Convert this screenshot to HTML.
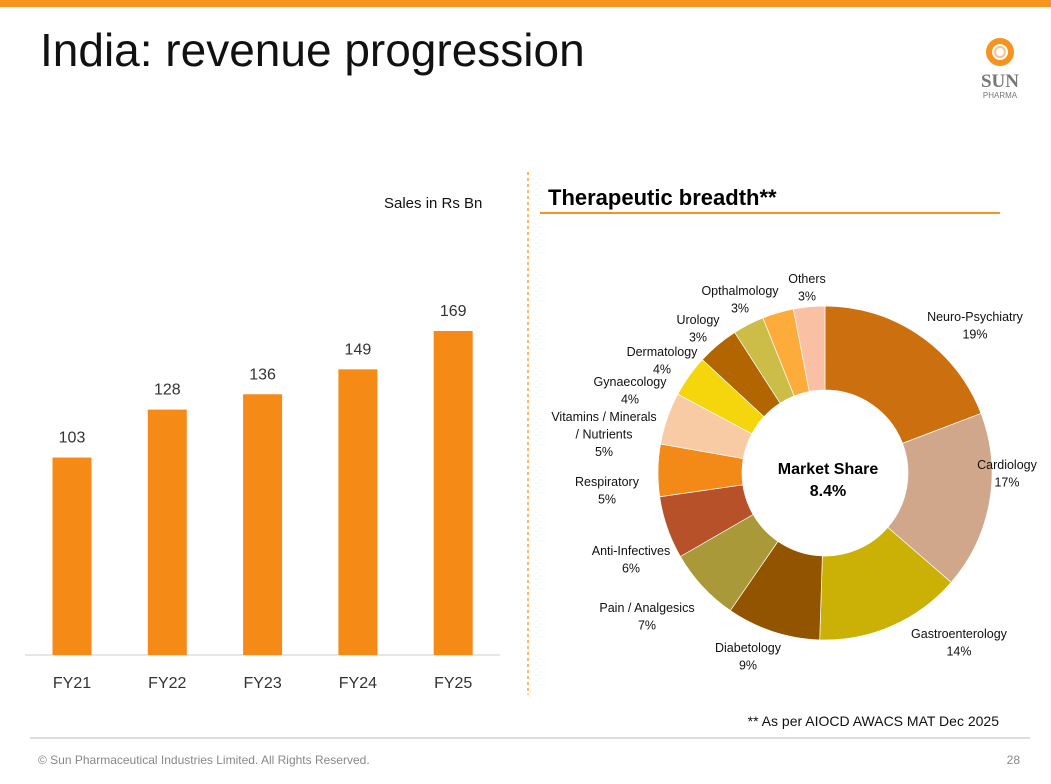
<!DOCTYPE html>
<html><head><meta charset="utf-8"><style>
body{margin:0;width:1051px;height:784px;background:#fff;font-family:"Liberation Sans",sans-serif;position:relative;overflow:hidden}
.abs{position:absolute}
</style></head><body>
<div class="abs" style="left:0;top:0;width:1051px;height:7px;background:#f7931e"></div>
<div class="abs" style="left:40px;top:23px;font-size:46px;color:#111">India: revenue progression</div>
<div class="abs" style="left:975px;top:36px;width:50px;text-align:center">
<svg width="32" height="32" viewBox="0 0 32 32"><circle cx="16" cy="16" r="11" fill="none" stroke="#f7931e" stroke-width="6"/><circle cx="16" cy="16" r="5" fill="none" stroke="#f9c38a" stroke-width="2"/></svg>
<div style="font-family:'Liberation Serif',serif;font-size:19px;font-weight:bold;color:#777;line-height:18px">SUN</div>
<div style="font-size:8px;color:#777">PHARMA</div></div>
<div class="abs" style="left:384px;top:195px;font-size:15px;color:#111">Sales in Rs Bn</div>
<svg class="abs" style="left:0;top:0" width="1051" height="784" id="chart">
<line x1="528" y1="172" x2="528" y2="695" stroke="#f7931e" stroke-dasharray="3,3" stroke-width="1.3"/>
<line x1="25" y1="655" x2="500" y2="655" stroke="#ccc"/>
<line x1="540" y1="213" x2="1000" y2="213" stroke="#f7931e" stroke-width="2"/>
<text x="548" y="205" font-size="22" font-weight="bold" fill="#000">Therapeutic breadth**</text>
<text x="828" y="474" font-size="16" font-weight="bold" fill="#000" text-anchor="middle">Market Share</text>
<text x="828" y="496" font-size="16" font-weight="bold" fill="#000" text-anchor="middle">8.4%</text>
<text x="999" y="726" font-size="14" fill="#111" text-anchor="end">** As per AIOCD AWACS MAT Dec 2025</text>
<line x1="30" y1="738" x2="1030" y2="738" stroke="#bbb"/>
<text x="38" y="764" font-size="12" fill="#888">© Sun Pharmaceutical Industries Limited. All Rights Reserved.</text>
<text x="1020" y="764" font-size="12" fill="#888" text-anchor="end">28</text>
</svg>
<script>
const years=["FY21","FY22","FY23","FY24","FY25"];
const sales=[103,128,136,149,169];
const segNames=["Neuro-Psychiatry","Cardiology","Gastroenterology","Diabetology","Pain / Analgesics","Anti-Infectives","Respiratory","Vitamins / Minerals|/ Nutrients","Gynaecology","Dermatology","Urology","Opthalmology","Others"];
const segVals=[19,17,14,9,7,6,5,5,4,4,3,3,3];
const segColors=["#cc6f0e","#d0a78a","#cbb006","#935400","#a99938","#b6512a","#f38a17","#f9cba5","#f5d50b","#b26500","#cbbd48","#fdab3b","#f9c0a3"];
// label layout anchors (text placement only)
const labelAnchors=[[975,316],[1007,464],[959,633],[748,647],[647,607],[631,550],[607,481],[604,416],[630,381],[662,351],[698,319],[740,290],[807,278]];
const svg=document.getElementById('chart');const NS="http://www.w3.org/2000/svg";
function mk(t,a){const e=document.createElementNS(NS,t);for(const k in a)e.setAttribute(k,a[k]);svg.appendChild(e);return e;}
const base=655,scale=324/169;
const y=v=>base-v*scale, x=i=>72+i*95.3;
sales.forEach((v,i)=>{
 const r=mk('rect',{x:x(i)-19.5,y:y(v),width:39,height:base-y(v),fill:'#f58a16'});
 
 
 const t=mk('text',{x:x(i),y:y(v)-15,'font-size':16,fill:'#333','text-anchor':'middle'});t.textContent=v;
 
 
 const l=mk('text',{x:x(i),y:688,'font-size':16,fill:'#333','text-anchor':'middle'});l.textContent=years[i];
 
 
});
const cx=825,cy=473,R=167,r0=83,tot=segVals.reduce((a,b)=>a+b,0);
let a0=0;
const pt=(a,rr)=>[cx+rr*Math.sin(a),cy-rr*Math.cos(a)];
segVals.forEach((v,i)=>{
 const a1=a0+v/tot*2*Math.PI;const lg=a1-a0>Math.PI?1:0;
 const p1=pt(a0,R),p2=pt(a1,R),p3=pt(a1,r0),p4=pt(a0,r0);
 const p=mk('path',{d:`M${p1}A${R},${R} 0 ${lg} 1 ${p2}L${p3}A${r0},${r0} 0 ${lg} 0 ${p4}Z`,fill:segColors[i],stroke:'#fff','stroke-width':0.7});
 
 
 const [lx,ly]=labelAnchors[i];
 const lines=segNames[i].split('|').concat([v+'%']);
 const tx=mk('text',{x:lx,y:ly+5,'font-size':12.5,fill:'#111','text-anchor':'middle'});
 
 
 lines.forEach((ln,k)=>{const ts=document.createElementNS(NS,'tspan');ts.setAttribute('x',lx);ts.setAttribute('dy',k?17.5:0);ts.textContent=ln;tx.appendChild(ts);});
 a0=a1;
});
</script>
</body></html>
